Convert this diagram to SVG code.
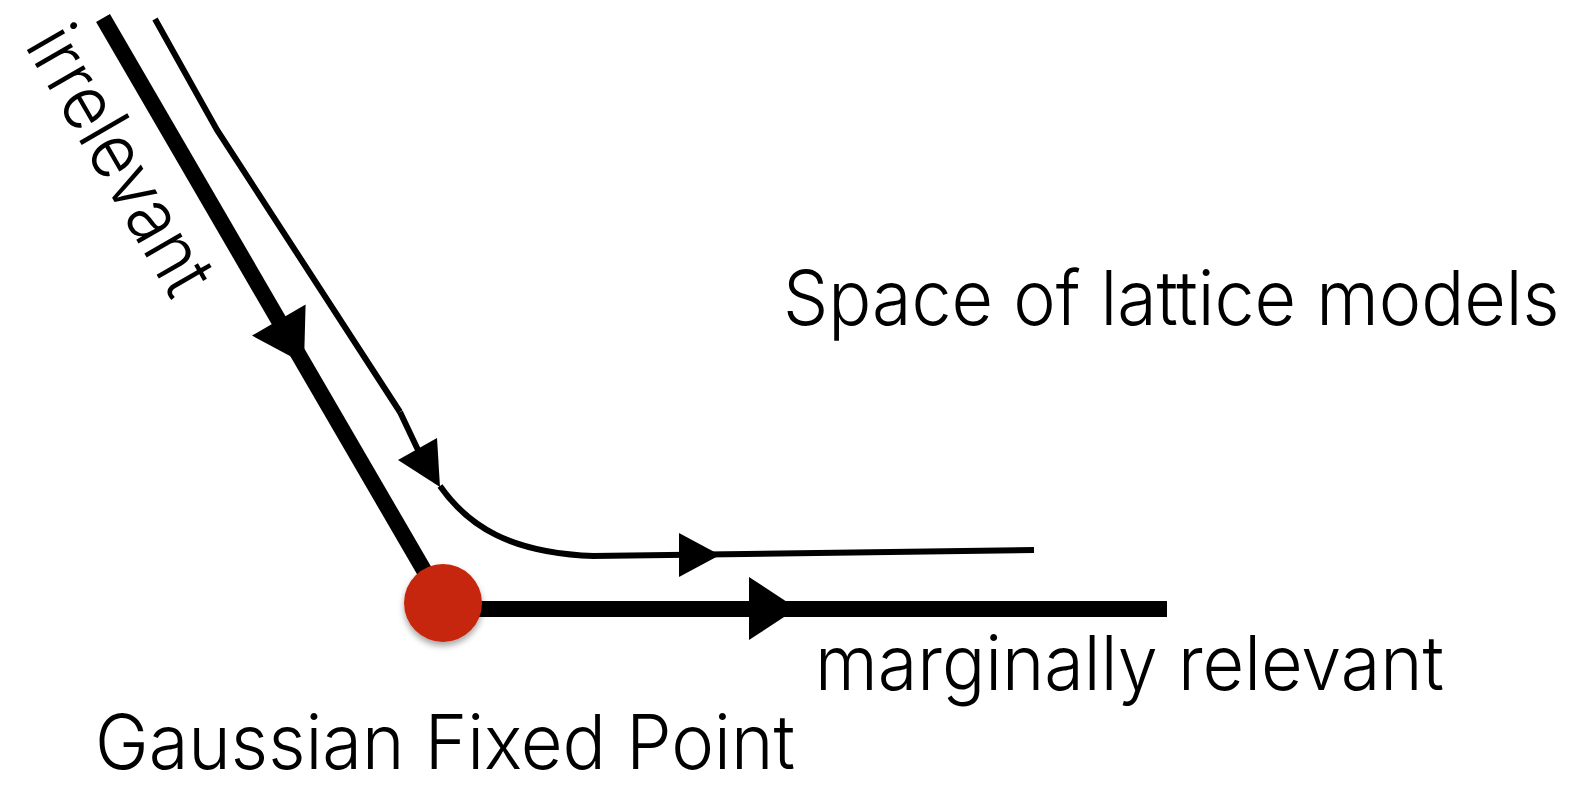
<svg xmlns="http://www.w3.org/2000/svg" width="1578" height="786" viewBox="0 0 1578 786">
<style>
.lbl{font-family:Inter,"Liberation Sans",Arial,sans-serif;font-weight:300;font-size:76px;fill:#000;}
.thick{stroke:#000;stroke-width:16;fill:none;}
.thin{stroke:#000;stroke-width:6;fill:none;}
.head{fill:#000;stroke:none;}
</style>
<defs>
<filter id="sh" x="-30%" y="-30%" width="160%" height="170%">
<feDropShadow dx="0" dy="4" stdDeviation="3" flood-color="#000" flood-opacity="0.35"/>
</filter>
</defs>
<rect width="1578" height="786" fill="#fff"/>
<g id="connectors">
<line class="thick" x1="103" y1="18" x2="443" y2="603" stroke-width="15"/>
<polygon class="head" points="305.6,304.4 252,335.6 304,363.5"/>
<line class="thick" x1="443" y1="609" x2="1167" y2="609"/>
<polygon class="head" points="749,577 749,640 797,608.5"/>
<polyline class="thin" points="155,19 217,130 400,412"/>
<line class="thin" x1="400" y1="412" x2="418" y2="450" stroke-width="8"/>
<polygon class="head" points="398,460 437,438 440,487"/>
<path class="thin" d="M440,486 C468,526 510,553 594,556" stroke-width="7"/>
<line class="thin" x1="592" y1="556" x2="1034" y2="550" stroke-width="8.5"/>
<polygon class="head" points="679,533 679,577 720,555"/>
</g>
<g id="fixed-point">
<circle cx="443" cy="603" r="39" fill="#C62609" filter="url(#sh)"/>
</g>
<g id="label-space">
<text class="lbl" transform="translate(783,325) scale(0.93,1)" x="0" y="0" textLength="835" lengthAdjust="spacingAndGlyphs">Space of lattice models</text>
</g>
<g id="label-marginal">
<text class="lbl" x="815" y="690" textLength="629" lengthAdjust="spacingAndGlyphs">marginally relevant</text>
</g>
<g id="label-gaussian">
<text class="lbl" x="95" y="769" textLength="700" lengthAdjust="spacingAndGlyphs">Gaussian Fixed Point</text>
</g>
<g id="label-irrelevant">
<text class="lbl" transform="translate(24,45) rotate(60)" x="0" y="0" textLength="296" lengthAdjust="spacingAndGlyphs">irrelevant</text>
</g>
</svg>
